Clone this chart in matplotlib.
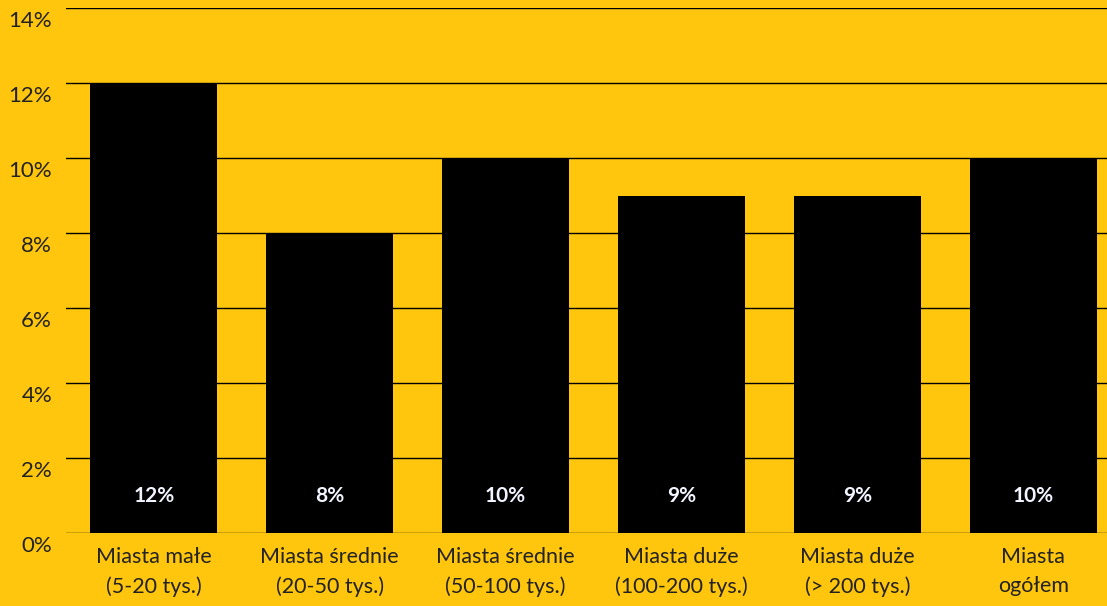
import matplotlib
matplotlib.use("Agg")
import matplotlib.pyplot as plt
from matplotlib.ticker import FuncFormatter
from matplotlib.transforms import ScaledTranslation

categories = ["Miasta małe\n(5-20 tys.)", "Miasta średnie\n(20-50 tys.)",
              "Miasta średnie\n(50-100 tys.)", "Miasta duże\n(100-200 tys.)",
              "Miasta duże\n(> 200 tys.)", "Miasta\nogółem"]
values = [12, 8, 10, 9, 9, 10]
yticks = [0, 2, 4, 6, 8, 10, 12, 14]

BG = "#FFC60D"
plt.rcParams['font.family'] = ['Lato', 'DejaVu Sans']

fig = plt.figure(figsize=(11.07, 6.06), dpi=100, facecolor=BG)
ax = fig.add_axes([66/1107, 73/606, 1 - 66/1107, (533-8)/606])
ax.set_facecolor(BG)

x = list(range(len(categories)))
ax.bar(x, values, width=0.723, color="black", zorder=2)
for xi, v in zip(x, values):
    ax.text(xi, 1.0, f"{v}%", ha="center", va="center", color="#F2F5FF",
            fontsize=15, fontweight="bold", zorder=3)

ax.set_xlim(-0.5, 5.42)
ax.set_ylim(0, 14)
ax.set_yticks(yticks)
ax.yaxis.set_major_formatter(FuncFormatter(lambda v, p: f"{int(v)}%"))
ax.grid(axis="y", color="black", linewidth=1, zorder=0)
ax.set_axisbelow(True)
for s in ax.spines.values():
    s.set_visible(False)
ax.tick_params(axis="y", length=0, pad=10, labelsize=16, labelcolor="#222")
ax.set_xticks(x)
ax.set_xticklabels(categories, fontsize=15.5, color="#222", linespacing=1.55)
ax.tick_params(axis="x", length=0, pad=10)

off = ScaledTranslation(0, -11/100, fig.dpi_scale_trans)
for lab in ax.get_yticklabels():
    lab.set_transform(lab.get_transform() + off)

fig.savefig("out.png", dpi=100, facecolor=BG)
